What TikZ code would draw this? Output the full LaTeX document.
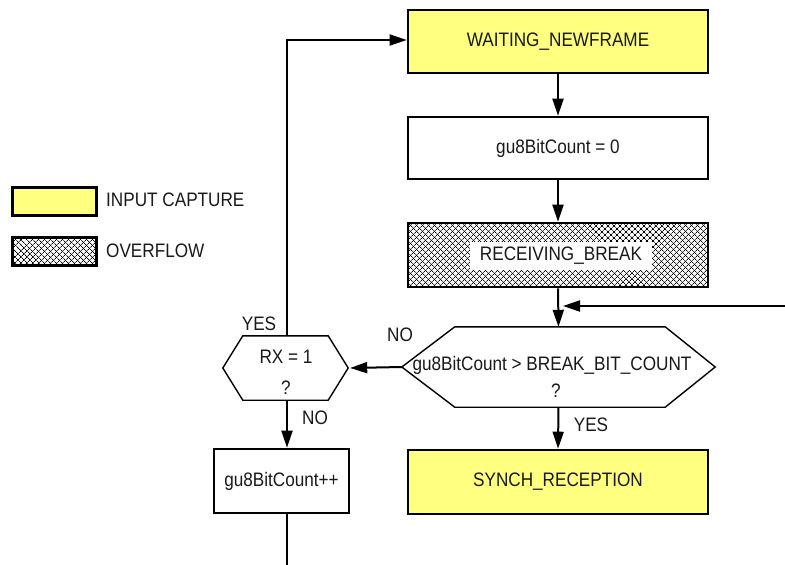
\documentclass[tikz,border=0pt]{standalone}
\usepackage{fontspec}
\setmainfont{Liberation Sans}[FakeStretch=0.88]
\usetikzlibrary{arrows.meta,patterns,patterns.meta,calc}
\definecolor{ylw}{RGB}{255,255,128}
\begin{document}
\begin{tikzpicture}[x=1pt,y=-1pt,
  every node/.style={font=\fontsize{19.5}{22}\selectfont, text=black!90},
  box/.style={draw, line width=2.6pt, minimum width=300pt, minimum height=63pt, inner sep=0pt},
  ylwbox/.style={box, fill=ylw},
  hatch/.style={postaction={pattern={Lines[angle=45,distance=4pt,line width=0.7pt]}},
                postaction={pattern={Lines[angle=-45,distance=4pt,line width=0.7pt]}}},
  hexnode/.style={inner sep=0pt, draw=none},
  hexline/.style={line width=1.4pt, fill=white},
  conn/.style={line width=2pt},
  arr/.style={conn, -{Triangle[length=17pt,width=11pt]}},
  lbl/.style={inner sep=0pt},
  lgbox/.style={draw, line width=2.6pt, minimum width=84pt, minimum height=28pt, inner sep=0pt}
]
\useasboundingbox (0,0) rectangle (785,565);

% legend
\node[lgbox, fill=ylw] (lg1) at (54.5,201.5) {};
\node[lbl, anchor=west] (lg1t) at (106,200) {INPUT CAPTURE};
\node[lgbox, fill=white, hatch] (lg2) at (54.5,251.5) {};
\node[lbl, anchor=west] (lg2t) at (106,251) {OVERFLOW};

% main column
\node[ylwbox] (wait) at (558,41.5) {WAITING\_NEWFRAME};
\node[box, minimum height=62pt] (zero) at (558,148) {gu8BitCount = 0};
\node[box, fill=white, hatch, minimum height=64pt] (recv) at (558,255) {};
\node[fill=white, minimum width=182pt, minimum height=28pt, inner sep=0pt] (recvt) at (561,256) {RECEIVING\_BREAK};

% big decision hexagon
\node[hexnode, minimum width=313pt, minimum height=80pt] (dec) at (558.5,367) {};
\draw[hexline] (dec.west) -- ($(dec.north west)+(53,0)$) -- ($(dec.north east)+(-50,0)$)
  -- (dec.east) -- ($(dec.south east)+(-50,0)$) -- ($(dec.south west)+(53,0)$) -- cycle;
\node[lbl] (dect) at (552,365) {gu8BitCount > BREAK\_BIT\_COUNT};
\node[lbl] (decq) at (556,391) {?};

\node[ylwbox, minimum height=64pt] (sync) at (558,482) {SYNCH\_RECEPTION};

% RX hexagon
\node[hexnode, minimum width=125pt, minimum height=64pt] (rx) at (285.5,368) {};
\draw[hexline] (rx.west) -- ($(rx.north west)+(20,0)$) -- ($(rx.north east)+(-20,0)$)
  -- (rx.east) -- ($(rx.south east)+(-20,0)$) -- ($(rx.south west)+(20,0)$) -- cycle;
\node[lbl] (rxt) at (286,357) {RX = 1};
\node[lbl] (rxq) at (286,388) {?};

\node[box, minimum width=135pt, minimum height=64pt] (inc) at (281.5,481) {gu8BitCount++};

% helper coordinates
\coordinate (lx) at (287,0);
\coordinate (inR) at (785,306);
\coordinate (join) at (563,306);
\coordinate (out) at (287,565);

% connectors
\draw[arr] (wait) -- (zero);
\draw[arr] (zero) -- (recv);
\draw[arr] (recv.south) -- (dec.north);
\draw[arr] (inR) -- (join);
\draw[arr] (dec.south) -- (sync.north);
\draw[arr] (dec.west) -- ($(rx.east)+(2,0)$);
\draw[arr] (rx.north -| lx) |- ($(wait.west)+(0,-1.5)$);
\draw[arr] (rx.south -| lx) -- (inc.north -| lx);
\draw[conn] (inc.south -| lx) -- (out);

% labels
\node[lbl] (yes1) at (259,324) {YES};
\node[lbl] (no1) at (315,418) {NO};
\node[lbl] (no2) at (400,335) {NO};
\node[lbl] (yes2) at (591,425) {YES};
\end{tikzpicture}
\end{document}
